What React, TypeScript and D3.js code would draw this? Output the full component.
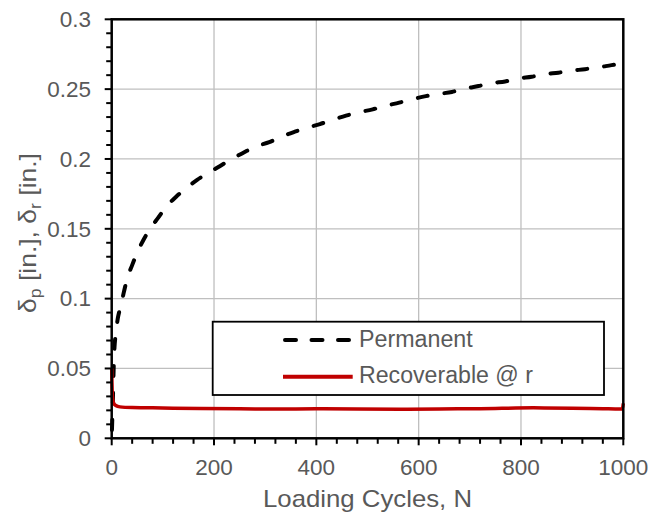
import React from "react";
import * as d3 from "d3";

// Permanent deformation (dashed black) — [N, value]
const permanentN = [0.5, 1, 2, 3, 4, 5, 6, 8, 10, 12, 15, 18, 24, 30, 40, 50, 62, 75, 91, 107, 126, 145, 167, 189, 212, 235, 260, 282, 308, 332, 358, 382, 407, 432, 458, 482, 510, 534, 562, 587, 614, 640, 665, 690, 717, 743, 769, 795, 821, 847, 873, 899, 925, 951, 977, 1000];
const permanentV = [0.006, 0.012, 0.022, 0.038, 0.052, 0.062, 0.068, 0.075, 0.081, 0.086, 0.091, 0.095, 0.105, 0.114, 0.124, 0.133, 0.142, 0.15, 0.158, 0.166, 0.173, 0.179, 0.185, 0.19, 0.195, 0.2, 0.205, 0.209, 0.212, 0.216, 0.2195, 0.2224, 0.225, 0.228, 0.231, 0.2334, 0.2355, 0.238, 0.2403, 0.2427, 0.245, 0.2466, 0.248, 0.2503, 0.2522, 0.2543, 0.2555, 0.2576, 0.2589, 0.2607, 0.2618, 0.2632, 0.2643, 0.2656, 0.2672, 0.2685];

// Recoverable deformation (red)
const recoverableN = [0, 0.5, 1, 2, 4, 8, 16, 40, 80, 120, 173, 250, 320, 400, 480, 564, 640, 720, 824, 900, 960, 994, 998, 1000];
const recoverableV = [0.05, 0.04, 0.033, 0.028, 0.025, 0.0235, 0.0225, 0.022, 0.0218, 0.0215, 0.0213, 0.0211, 0.021, 0.0211, 0.0209, 0.0208, 0.021, 0.0212, 0.0218, 0.0216, 0.0212, 0.021, 0.021, 0.025];

const xTicks = [0, 200, 400, 600, 800, 1000];
const yTicks = [0, 0.05, 0.1, 0.15, 0.2, 0.25, 0.3];
const yTickLabels = ["0", "0.05", "0.1", "0.15", "0.2", "0.25", "0.3"];
const legendLabels = ["Permanent", "Recoverable @ r"];

const FONT = "'Liberation Sans', Arial, sans-serif";
const TXT = "#595959";

export default function App() {
  const x = d3.scaleLinear().domain([0, 1000]).range([111.7, 623.3]);
  const y = d3.scaleLinear().domain([0, 0.3]).range([438.3, 19.3]);
  const line = d3
    .line<[number, number]>()
    .x((d) => x(d[0]))
    .y((d) => y(d[1]))
    .curve(d3.curveMonotoneX);

  const permData: [number, number][] = permanentN.map((n, i) => [n, permanentV[i]]);
  const recData: [number, number][] = recoverableN.map((n, i) => [n, recoverableV[i]]);

  const xMinor = d3.range(0, 1000.1, 40);
  const yMinor = d3.range(0, 0.3001, 0.01);

  const [x0, x1] = x.range();
  const [y0, y1] = y.range();

  return (
    <svg width={662} height={517} style={{ position: "absolute", left: 0, top: 0, background: "#fff" }}>
      {/* grid */}
      {xTicks.slice(1, -1).map((t) => (
        <line key={"gx" + t} x1={x(t)} x2={x(t)} y1={y0} y2={y1} stroke="#BFBFBF" strokeWidth={1.3} />
      ))}
      {yTicks.slice(1, -1).map((t) => (
        <line key={"gy" + t} x1={x0} x2={x1} y1={y(t)} y2={y(t)} stroke="#BFBFBF" strokeWidth={1.3} />
      ))}

      {/* data */}
      <path d={line(permData) || ""} fill="none" stroke="#000" strokeWidth={4} strokeDasharray="10 17" strokeLinecap="round" />
      <path d={line(recData) || ""} fill="none" stroke="#C00000" strokeWidth={3.5} />

      {/* frame */}
      <rect x={x0} y={y1} width={x1 - x0} height={y0 - y1} fill="none" stroke="#000" strokeWidth={2.5} />

      {/* ticks */}
      {xMinor.map((t, i) => (
        <line key={"tx" + i} x1={x(t)} x2={x(t)} y1={y0} y2={y0 + (Math.round(t) % 200 === 0 ? 7 : 5.5)} stroke="#000" strokeWidth={2} />
      ))}
      {yMinor.map((t, i) => (
        <line key={"ty" + i} x1={x0 - (i % 5 === 0 ? 7 : 5.5)} x2={x0} y1={y(t)} y2={y(t)} stroke="#000" strokeWidth={2} />
      ))}

      {/* tick labels */}
      {xTicks.map((t) => (
        <text key={"lx" + t} x={x(t)} y={474.5} textAnchor="middle" fontFamily={FONT} fontSize={22.5} fill={TXT}>
          {t}
        </text>
      ))}
      {yTicks.map((t, i) => (
        <text key={"ly" + t} x={91} y={y(t) + 7.8} textAnchor="end" fontFamily={FONT} fontSize={22.5} fill={TXT}>
          {yTickLabels[i]}
        </text>
      ))}

      {/* axis titles */}
      <text x={(x0 + x1) / 2} y={506.5} textAnchor="middle" fontFamily={FONT} fontSize={24} fill={TXT} textLength={209} lengthAdjust="spacingAndGlyphs">
        Loading Cycles, N
      </text>
      <text
        x={36}
        y={233}
        transform="rotate(-90, 36, 233)"
        textAnchor="middle"
        fontFamily={FONT}
        fontSize={24}
        fill={TXT}
        textLength={160}
        lengthAdjust="spacingAndGlyphs"
      >
        δ
        <tspan fontSize={16} dy={5}>p</tspan>
        <tspan dy={-5}> [in.], δ</tspan>
        <tspan fontSize={16} dy={5}>r</tspan>
        <tspan dy={-5}> [in.]</tspan>
      </text>

      {/* legend */}
      <rect x={212.7} y={321.7} width={391.3} height={73.3} fill="#fff" stroke="#000" strokeWidth={1.8} />
      <line x1={285} x2={351} y1={340} y2={340} stroke="#000" strokeWidth={4} strokeDasharray="11 15.5" strokeLinecap="round" />
      <line x1={283} x2={352.7} y1={376.7} y2={376.7} stroke="#C00000" strokeWidth={4} />
      <text x={359} y={346.7} fontFamily={FONT} fontSize={23} fill={TXT} textLength={113.7} lengthAdjust="spacingAndGlyphs">
        {legendLabels[0]}
      </text>
      <text x={359} y={383.3} fontFamily={FONT} fontSize={23} fill={TXT} textLength={174} lengthAdjust="spacingAndGlyphs">
        {legendLabels[1]}
      </text>
    </svg>
  );
}
